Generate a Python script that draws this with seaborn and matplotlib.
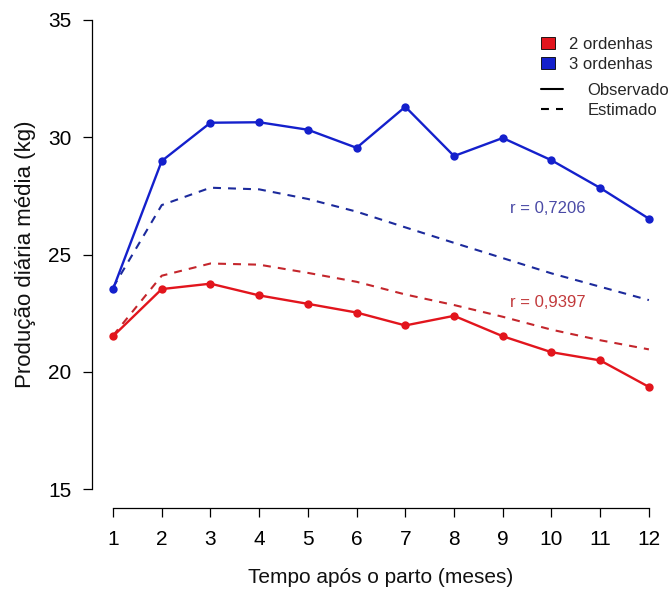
import pandas as pd
import matplotlib
matplotlib.use('Agg')
import matplotlib.pyplot as plt
import seaborn as sns
import numpy as np
from matplotlib.lines import Line2D
from matplotlib.patches import Patch

# data
meses = list(range(1, 13))
obs_2ord = [21.52, 23.53, 23.76, 23.26, 22.90, 22.53, 21.98, 22.39, 21.52, 20.84, 20.49, 19.36]
obs_3ord = [23.53, 28.99, 30.62, 30.64, 30.32, 29.55, 31.30, 29.20, 29.97, 29.02, 27.84, 26.53]
est_2ord = [21.55, 24.10, 24.62, 24.57, 24.22, 23.84, 23.30, 22.85, 22.35, 21.80, 21.35, 20.96]
est_3ord = [23.60, 27.11, 27.85, 27.78, 27.37, 26.83, 26.16, 25.50, 24.85, 24.20, 23.63, 23.06]
r_labels = ['r = 0,9397', 'r = 0,7206']
ytick_vals = [15, 20, 25, 30, 35]

sns.set_theme(style='white')
plt.rcParams['font.family'] = ['Liberation Sans', 'DejaVu Sans']

red = '#e2151d'
blue = '#1420cc'
red_est = '#c4262c'
blue_est = '#1c2a9c'
dash = (0, (3.8, 3.4))

df = pd.DataFrame({'mes': meses, 'obs2': obs_2ord, 'obs3': obs_3ord,
                   'est2': est_2ord, 'est3': est_3ord})

fig = plt.figure(figsize=(6.71, 5.90), dpi=100)
ax = fig.add_axes([0.1365, 0.139, 0.8625, 0.859])

sns.lineplot(data=df, x='mes', y='est3', ax=ax, color=blue_est, lw=1.5, linestyle=dash)
sns.lineplot(data=df, x='mes', y='est2', ax=ax, color=red_est, lw=1.5, linestyle=dash)
sns.lineplot(data=df, x='mes', y='obs3', ax=ax, color=blue, lw=1.7,
             marker='o', markersize=6, markeredgewidth=0)
sns.lineplot(data=df, x='mes', y='obs2', ax=ax, color=red, lw=1.7,
             marker='o', markersize=6, markeredgewidth=0)

ax.text(9.93, 26.98, r_labels[1], color='#4a4aa6', fontsize=12, ha='center', va='center')
ax.text(9.93, 22.94, r_labels[0], color='#c23a3c', fontsize=12, ha='center', va='center')

ax.set_xlim(0.56, 12.44)
ax.set_ylim(14.2, 35.8)
ax.set_xticks(meses)
ax.set_yticks(ytick_vals)
ax.tick_params(axis='both', direction='out', length=6.5, width=0.9, colors='black',
               labelsize=15, bottom=True, left=True)
ax.tick_params(axis='x', pad=9)
ax.tick_params(axis='y', pad=8)
for s in ['top', 'right']:
    ax.spines[s].set_visible(False)
for s in ['left', 'bottom']:
    ax.spines[s].set_color('black')
    ax.spines[s].set_linewidth(0.9)
ax.spines['left'].set_bounds(15, 35)
ax.spines['bottom'].set_bounds(1, 12)
ax.set_xlabel('Tempo após o parto (meses)', fontsize=15, labelpad=14, color='#111111')
ax.set_ylabel('Produção diária média (kg)', fontsize=16, labelpad=9, color='#111111')

# two legends, as in the original (fill squares for groups, lines for type)
h1 = [Patch(facecolor=red, edgecolor='black', linewidth=0.6),
      Patch(facecolor=blue, edgecolor='black', linewidth=0.6)]
leg1 = fig.legend(h1, ['2 ordenhas', '3 ordenhas'], loc='upper left',
                  bbox_to_anchor=(541 / 671, 1 - 37 / 590), frameon=False,
                  fontsize=12, handlelength=0.85, handleheight=0.7,
                  handletextpad=0.85, labelspacing=0.3, borderpad=0, borderaxespad=0)
h2 = [Line2D([], [], color='black', lw=1.5),
      Line2D([], [], color='black', lw=1.5, linestyle=dash)]
leg2 = fig.legend(h2, ['Observado', 'Estimado'], loc='upper left',
                  bbox_to_anchor=(541 / 671, 1 - 83 / 590), frameon=False,
                  fontsize=12, handlelength=1.3, handletextpad=1.5,
                  labelspacing=0.28, borderpad=0, borderaxespad=0)

fig.savefig('out.png', dpi=100)
